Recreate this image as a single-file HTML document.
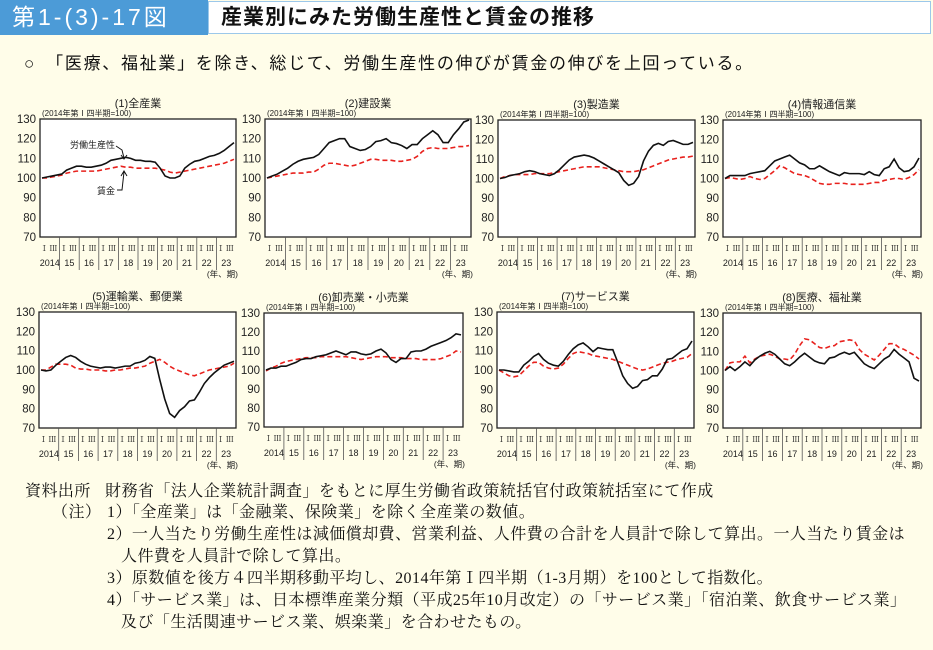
<!DOCTYPE html>
<html><head><meta charset="utf-8">
<style>
body{margin:0;width:933px;height:650px;background:#fffde9;overflow:hidden;position:relative;font-family:"Liberation Sans","Noto Sans CJK JP",sans-serif;}
.hdr-num{position:absolute;left:0;top:0;width:208px;height:35px;background:#4c9bd7;color:#fff;font-size:23px;line-height:35px;padding-left:12px;box-sizing:border-box;letter-spacing:3px;white-space:nowrap}
.hdr-title{position:absolute;left:208px;top:1px;width:723px;height:33px;background:#fff;border:1px solid #9cc8ea;box-sizing:border-box;font-size:21px;font-weight:bold;line-height:31px;padding-left:12px;color:#111;letter-spacing:1px}
.sub{position:absolute;left:24px;top:49px;font-size:17px;letter-spacing:1.7px;color:#111;white-space:nowrap}
.fn{position:absolute;font-family:"Liberation Serif","Noto Serif CJK JP",serif;font-size:16px;letter-spacing:0.45px;color:#111;white-space:nowrap;line-height:18px}
svg{position:absolute;left:0;top:0}
</style></head><body>
<div class="hdr-num">第1-(3)-17図</div>
<div class="hdr-title">産業別にみた労働生産性と賃金の推移</div>
<div class="sub">○　「医療、福祉業」を除き、総じて、労働生産性の伸びが賃金の伸びを上回っている。</div>
<div class="fn" style="left:25px;top:483px">資料出所</div>
<div class="fn" style="left:105px;top:483px">財務省「法人企業統計調査」をもとに厚生労働省政策統括官付政策統括室にて作成</div>
<div class="fn" style="left:52px;top:504px">（注）</div>
<div class="fn" style="left:107px;top:504px">1）「全産業」は「金融業、保険業」を除く全産業の数値。</div>
<div class="fn" style="left:107px;top:526px">2）一人当たり労働生産性は減価償却費、営業利益、人件費の合計を人員計で除して算出。一人当たり賃金は</div>
<div class="fn" style="left:121px;top:548px">人件費を人員計で除して算出。</div>
<div class="fn" style="left:107px;top:570px">3）原数値を後方４四半期移動平均し、2014年第Ⅰ四半期（1-3月期）を100として指数化。</div>
<div class="fn" style="left:107px;top:592px">4）「サービス業」は、日本標準産業分類（平成25年10月改定）の「サービス業」「宿泊業、飲食サービス業」</div>
<div class="fn" style="left:121px;top:614px">及び「生活関連サービス業、娯楽業」を合わせたもの。</div>
<svg id="chart" width="933" height="650"></svg>
<script>
const years=["2014","15","16","17","18","19","20","21","22","23"];
const yTicks=[70,80,90,100,110,120,130];
const titles=["(1)全産業","(2)建設業","(3)製造業","(4)情報通信業","(5)運輸業、郵便業","(6)卸売業・小売業","(7)サービス業","(8)医療、福祉業"];
const prod1=[100,100.5,101,101.5,102,104,105,106,106,105.5,105.5,106,106.5,107.5,109,109.5,110,110.5,110,109,109,108.5,108.5,108,105,101,100,100,101,105,107,108.5,109,110,111,111.5,112.5,114,116,118];
const wage1=[100,100,100.5,101,101.5,102.5,103,103.5,103.5,103.5,103.5,103.5,104,104.5,105,105.5,106,105.5,105.5,105,105,105,105,105,104.5,104,103,102.5,103,103.5,104,104.5,105,105.5,106,106.5,107,107.5,108.5,109.5];
const prod2=[100,101,102,103.5,105,107,108.5,109.5,110,110.5,112,115,118,119,120,120,116,115,114,114.5,116,118.5,119,120,118,117.5,116.5,115,117,117,120,122,124,122,118,118,122,125,128.5,129.5];
const wage2=[100,100.5,101,101.5,102,102.5,102.5,102.5,103,103,104.5,106.5,107.5,107.5,107,106.5,106,106.5,107.5,108.5,109.5,109.5,109,109,109,108.5,108.5,109,109.5,111,113.5,115,115.5,115,115,115,115.5,116,116,116.5];
const prod3=[100,100.5,101.5,102,102.5,103.5,104,103.5,102.5,102,101.5,102.5,104.5,107,109.5,111,111.5,112,111.5,110.5,109,107.5,106,104.5,103,99,96.5,97.5,101,109,114,117,118,117,119,119.5,118.5,117.5,117.5,118.5];
const wage3=[100,101,101.5,102,102,102,102,102.5,102.5,102.5,102.5,103,103.5,104,104.5,105,105.5,106,106,106,106,105.5,105,104.5,104,103.5,103.5,103.5,104,104.5,105.5,106.5,107.5,108.5,109.5,110,110.5,111,111,111.5];
const prod4=[100,101.5,101.5,101.5,101.5,102.5,103,103.5,104,106.5,109,110,111,112,110,108,107,105,105,106.5,105,103.5,102.5,101.5,103,102.5,102.5,102.5,102,103.5,102,101.5,105,106,110,105.5,103.5,104,106,110.5];
const wage4=[100,100.5,100,99.5,100,101,100,99.5,100,102,104,106.5,105.5,104,102.5,102,101.5,100.5,99,97.5,97,97,97.5,97.5,97.5,97,97,97,97,97.5,98,98,99,99.5,100,100,99.5,100.5,102,104.5];
const prod5=[100,99.5,100,102.5,104.5,106.5,107.5,106.5,104.5,103,102,101.5,101,101.5,101.5,101,101.5,102,102,103.5,104,105,107,106,95,85,77.5,75.5,79,81,84,84.5,88.5,93,96,98.5,100.5,102.5,103.5,104.5];
const wage5=[100,100,101.5,103,103,103,102.5,101,100.5,100.5,100,100,100,99.5,99.5,100,100,100.5,101,101,101.5,102,103.5,104.5,105.5,104,102,100.5,99.5,98.5,97.5,97,98,99,100,100.5,101,101.5,102,103.5];
const prod6=[100,101,101,102,102,103,104,105.5,106,106,107,107.5,108,109,110,109,108,109.5,109.5,108.5,108,108.5,110,111,109,105.5,104,106,106,109.5,110,110,111,112.5,113.5,114.5,115.5,117,119,118.5];
const wage6=[99.5,101,102,103.5,104.5,105,105.5,106,106.5,106.5,106.5,107,107,107,107,107,107,106.5,106,105.5,106,106.5,107,107,107,106.5,106.5,106.5,106,106,106,105.5,105.5,105.5,105.5,106,107,108,110,109.5];
const prod7=[100,100,99.5,99,99,102.5,104.5,107,108.5,105.5,103.5,102.5,102,104.5,108,111,113,114,112,109.5,111.5,111,110.5,110.5,104,97,93,90.5,91.5,94.5,95,97,97,100.5,105.5,106,108,110,111,115];
const wage7=[100,98.5,97,96.5,97,99.5,102,104,104,102,101,100.5,101,103,106,108.5,109.5,109,108.5,107.5,107,106.5,106,105.5,104.5,103.5,102.5,101.5,100.5,100,100.5,101.5,102.5,103.5,104,104.5,105.5,106,106.5,108.5];
const prod8=[100,102,100,102,104.5,102.5,105.5,107.5,109,110,108.5,106,103.5,102.5,104.5,107,109,107,105,104,103.5,106.5,107,108.5,109.5,108.5,109.5,106.5,103.5,102,101,103.5,106,107.5,111,108.5,106.5,104.5,96,94.5];
const wage8=[100,104,104.5,104.5,107.5,104,106,107.5,108,108.5,107.5,106,106,105.5,108.5,113,116.5,116,114,112,111.5,112.5,113,115,115.5,116,115.5,111,108.5,107,105.5,108,111,114,114,112,111,109.5,108,106];
const prods=[prod1,prod2,prod3,prod4,prod5,prod6,prod7,prod8];
const wages=[wage1,wage2,wage3,wage4,wage5,wage6,wage7,wage8];
const boxes=[[40,119,236,237],[265,119,471,237],[498,120,695,237],[723,120,921,237],[39,312,236,428],[264,313,463,427],[497,312,694,428],[723,313,921,428]];
const svg=document.getElementById('chart');
const NS='http://www.w3.org/2000/svg';
function mk(tag,attrs,parent){const e=document.createElementNS(NS,tag);for(const k in attrs)e.setAttribute(k,attrs[k]);(parent||svg).appendChild(e);return e;}
function txt(x,y,s,size,anchor,parent,fam){const t=mk('text',{x:x,y:y,'font-size':size,'text-anchor':anchor||'start',fill:'#222','font-family':fam||'"Liberation Sans","Noto Sans CJK JP",sans-serif'},parent);t.textContent=s;return t;}
boxes.forEach((b,p)=>{
  const [L,T,R,B]=b;
  const g=mk('g',{});
  
  
  const xs=i=>L+2+i*(R-L-4)/39;
  const ys=v=>B-(v-70)/60*(B-T);
  mk('rect',{x:L,y:T,width:R-L,height:B-T,fill:'#fff',stroke:'#222','stroke-width':1.3},g);
  const tt=txt((L+R)/2,T-12,titles[p],11,'middle',g);
  
  txt(L+2,T-3,'(2014年第Ⅰ四半期=100)',8,'start',g);
  yTicks.forEach(v=>{const t=txt(L-4,ys(v)+4,String(v),11.5,'end',g);});
  const w=(R-L)/10;
  years.forEach((y,k)=>{
    const x0=L+k*w;
    if(k>0){mk('line',{x1:x0,y1:B,x2:x0,y2:B+33,stroke:'#555','stroke-width':0.8},g);}
    txt(x0+w*0.22,B+14,'Ⅰ',8,'middle',g,'"Liberation Serif","Noto Serif CJK JP",serif');
    txt(x0+w*0.68,B+14,'Ⅲ',8,'middle',g,'"Liberation Serif","Noto Serif CJK JP",serif');
    const yl=txt(x0+w/2,B+29,y,9,'middle',g);
    
  });
  txt(R+2,B+40,'(年、期)',8.5,'end',g);
  const pw=wages[p].map((v,i)=>xs(i)+','+ys(v)).join(' ');
  const wl=mk('polyline',{points:pw,fill:'none',stroke:'#e8211d','stroke-width':1.6,'stroke-dasharray':'5,3'},g);
  
  
  const pp=prods[p].map((v,i)=>xs(i)+','+ys(v)).join(' ');
  const pl=mk('polyline',{points:pp,fill:'none',stroke:'#111','stroke-width':1.6},g);
  
  
});
const a=mk('g',{});


txt(70,148,'労働生産性',9,'start',a);
mk('path',{d:'M116,146 L122,150 L124,158 M121,155 L124,159 L127,155',fill:'none',stroke:'#111','stroke-width':1},a);
txt(97,194,'賃金',9,'start',a);
mk('path',{d:'M117,190 L122,190 L124,172 M121,176 L124,171 L127,176',fill:'none',stroke:'#111','stroke-width':1},a);
</script>
</body></html>
